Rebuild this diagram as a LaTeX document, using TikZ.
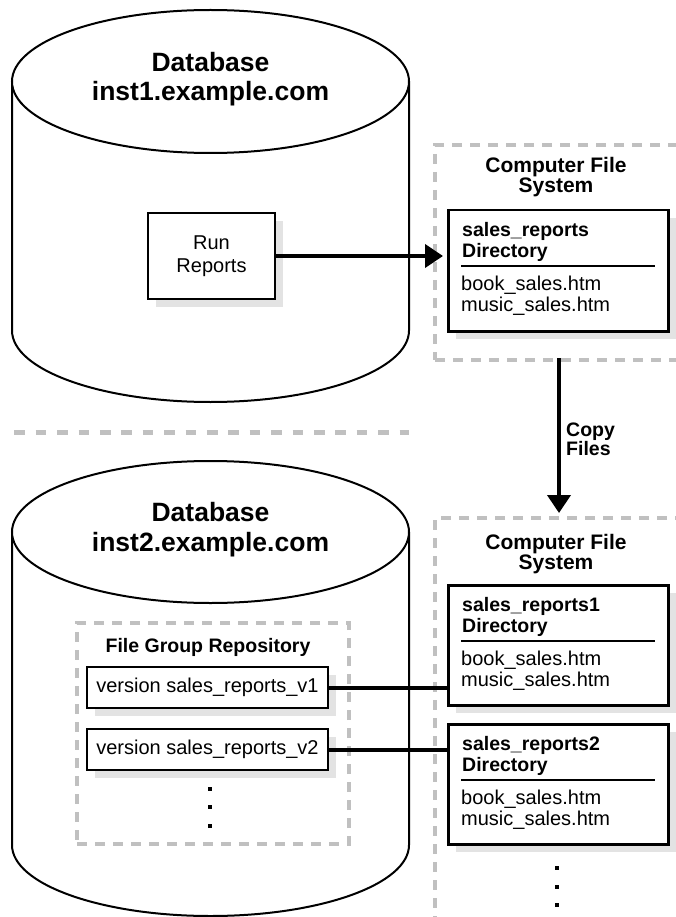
\documentclass[tikz,border=0pt]{standalone}
\usepackage{fontspec}
\setmainfont{Liberation Sans}
\usetikzlibrary{arrows.meta,shadows}
\definecolor{dashgray}{HTML}{C0C0C0}
\definecolor{shadowgray}{HTML}{E3E3E3}
\newcommand\mydirbox[4]{%
  \node[boxstyle, minimum width=220pt, minimum height=#3pt, anchor=north west] (#1) at (447,#2) {};
  \node[hdr] (#1h) at ([xshift=15pt,yshift=-33pt]#1.north west) {#4\\Directory};
  \draw[line width=2pt] ([xshift=14pt,yshift=-57pt]#1.north west) -- ([xshift=208pt,yshift=-57pt]#1.north west);
  \node[items] (#1i) at ([xshift=14pt,yshift=-87pt]#1.north west) {book\_sales.htm\\music\_sales.htm};
}
\begin{document}
\begin{tikzpicture}[x=1pt,y=-1pt,
  cyl/.style={line width=2pt},
  boxstyle/.style={draw, line width=2.5pt, fill=white, inner sep=0pt,
    general shadow={fill=shadowgray, shadow xshift=8pt, shadow yshift=-8pt}},
  region/.style={draw=dashgray, line width=4pt, dash pattern=on 10pt off 8pt, inner sep=0pt},
  titlebig/.style={font=\fontsize{26.5}{29.5}\selectfont\bfseries, align=center, inner sep=0pt},
  titlemid/.style={font=\fontsize{21}{20}\selectfont\bfseries, align=center, inner sep=0pt},
  hdr/.style={font=\fontsize{19.5}{20.5}\selectfont\bfseries, align=left, anchor=west, inner sep=0pt},
  items/.style={font=\fontsize{20}{21}\selectfont, align=left, anchor=west, inner sep=0pt},
  conn/.style={line width=4pt},
  arr/.style={line width=4pt, -{Triangle[length=18pt,width=23pt]}},
  dotsq/.style={fill=black, minimum size=4pt, inner sep=0pt},
]
\useasboundingbox (0,0) rectangle (676,917);
\clip (0,0) rectangle (676,917);
\fill[white] (0,0) rectangle (676,917);

% dashed regions
\node[region, minimum width=257pt, minimum height=215pt, anchor=north west] (fs1) at (433,143) {};
\node[region, minimum width=257pt, minimum height=420pt, anchor=north west] (fs2) at (433,516) {};
\draw[dashgray, line width=4.5pt, dash pattern=on 10.7pt off 10.7pt] (14.3,432.5) -- (409,432.5);

% database 1
\draw[cyl, fill=white] (12,81.5) -- (12,330.5) arc[start angle=180, end angle=360, x radius=198.5pt, y radius=71.5pt] -- (409,81.5);
\draw[cyl, fill=white] (210.5,81.5) ellipse [x radius=198.5pt, y radius=71.5pt];
\node[titlebig] (db1) at (210.5,79) {Database\\inst1.example.com};

% database 2
\draw[cyl, fill=white] (12,532) -- (12,845) arc[start angle=180, end angle=360, x radius=198.5pt, y radius=71pt] -- (409,532);
\draw[cyl, fill=white] (210.5,532) ellipse [x radius=198.5pt, y radius=71pt];
\node[titlebig] (db2) at (210.5,529.5) {Database\\inst2.example.com};

% run reports
\node[boxstyle, minimum width=127pt, minimum height=86pt, font=\fontsize{20}{23}\selectfont, align=center] (run) at (211.5,256) {Run\\Reports};

% file system 1
\node[titlemid] (fs1t) at (556,177) {Computer File\\System};
\mydirbox{dirA}{209}{121}{sales\_reports}

% file system 2
\node[titlemid] (fs2t) at (556,554) {Computer File\\System};
\mydirbox{dirB}{584}{120}{sales\_reports1}
\mydirbox{dirC}{723}{120}{sales\_reports2}
\node[dotsq] (fd1) at (557,868) {};
\node[dotsq] (fd2) at (557,887) {};
\node[dotsq] (fd3) at (557,905) {};

% repository
\node[region, minimum width=272pt, minimum height=221pt, anchor=north west] (repo) at (75,621) {};
\node[font=\fontsize{19.5}{20}\selectfont\bfseries, inner sep=0pt] (repot) at (208,647) {File Group Repository};
\node[boxstyle, minimum width=241pt, minimum height=41pt, font=\fontsize{20}{22}\selectfont] (v1) at (207.5,687.5) {version sales\_reports\_v1};
\node[boxstyle, minimum width=241pt, minimum height=41pt, font=\fontsize{20}{22}\selectfont] (v2) at (207.5,749.5) {version sales\_reports\_v2};
\node[dotsq] (rd1) at (210,789) {};
\node[dotsq] (rd2) at (210,807) {};
\node[dotsq] (rd3) at (210,826) {};

% connectors
\draw[arr, shorten >=4pt] (run.east) -- (run.east -| dirA.west);
\coordinate (cpS) at (559,358);
\coordinate (cpE) at (559,513);
\draw[arr] (cpS) -- (cpE);
\node[font=\fontsize{19.5}{19}\selectfont\bfseries, align=left, anchor=west, inner sep=0pt] (copy) at (566,439.5) {Copy\\Files};
\draw[conn] (v1.east) -- (v1.east -| dirB.west);
\draw[conn] (v2.east) -- (v2.east -| dirC.west);
\end{tikzpicture}
\end{document}
